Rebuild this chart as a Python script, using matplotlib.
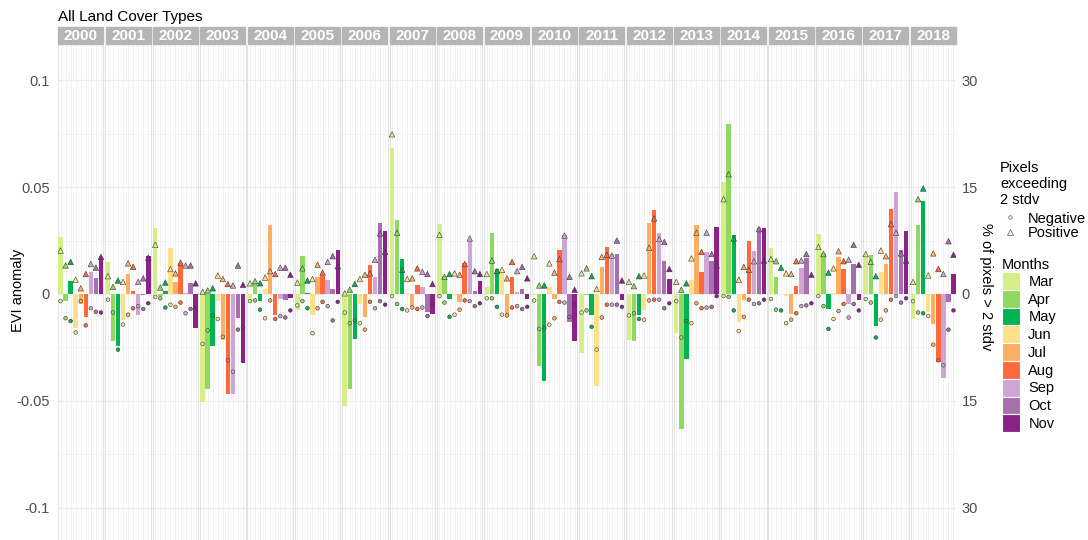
import matplotlib
matplotlib.use("Agg")
import matplotlib.pyplot as plt
import matplotlib.transforms as mtransforms
from matplotlib.patches import Rectangle, Patch
from matplotlib.lines import Line2D

plt.rcParams['font.family'] = ['Liberation Sans', 'DejaVu Sans']

# data
years = list(range(2000, 2019))
months = ["Mar", "Apr", "May", "Jun", "Jul", "Aug", "Sep", "Oct", "Nov"]
month_colors = ["#d5ee87", "#8fd962", "#00b352", "#fee08b", "#fdae61",
                "#ff6a3c", "#cfa6d3", "#a86fae", "#8a2387"]

# EVI anomaly per year, Mar..Nov
anomaly = [
    [0.0268, -0.0031, 0.0062, -0.0159, -0.0047, -0.0109, 0.0104, 0.0073, 0.0171],
    [0.0148, -0.0221, -0.0243, -0.0120, 0.0095, 0.0016, -0.0097, -0.0005, 0.0178],
    [0.0308, -0.0010, 0.0012, 0.0215, 0.0055, 0.0145, 0.0005, 0.0053, -0.0159],
    [-0.0506, -0.0444, -0.0243, -0.0031, -0.0215, -0.0469, -0.0469, -0.0111, -0.0324],
    [-0.0034, 0.0051, -0.0031, 0.0023, 0.0324, -0.0100, -0.0025, -0.0028, -0.0020],
    [-0.0075, 0.0176, 0.0003, -0.0098, 0.0078, 0.0083, 0.0065, 0.0025, 0.0207],
    [-0.0523, -0.0442, -0.0209, -0.0047, -0.0109, 0.0137, 0.0078, 0.0333, 0.0293],
    [0.0681, 0.0347, 0.0165, 0.0003, -0.0062, 0.0042, 0.0034, -0.0086, -0.0093],
    [0.0329, 0.0083, -0.0023, -0.0005, -0.0039, 0.0143, 0.0249, 0.0016, 0.0059],
    [0.0034, 0.0283, 0.0115, 0.0106, -0.0104, 0.0081, 0.0011, 0.0025, -0.0025],
    [-0.0005, -0.0336, -0.0408, 0.0034, -0.0023, 0.0207, 0.0276, -0.0129, -0.0218],
    [-0.0274, -0.0005, -0.0097, -0.0428, 0.0128, 0.0221, 0.0187, 0.0187, -0.0028],
    [-0.0215, -0.0218, -0.0097, -0.0075, 0.0333, 0.0393, 0.0287, 0.0153, 0.0069],
    [-0.0184, -0.0631, -0.0302, 0.0065, 0.0322, 0.0101, 0.0196, 0.0156, 0.0315],
    [0.0525, 0.0794, 0.0276, -0.0129, -0.0026, 0.0248, 0.0202, 0.0308, 0.0308],
    [0.0217, 0.0081, 0.0002, -0.0008, -0.0093, 0.0036, 0.0121, 0.0168, -0.0002],
    [0.0280, 0.0190, -0.0069, 0.0006, 0.0171, 0.0118, -0.0047, 0.0139, -0.0028],
    [0.0182, 0.0182, -0.0148, 0.0104, 0.0142, 0.0397, 0.0478, 0.0207, 0.0296],
    [-0.0118, 0.0324, 0.0433, -0.0086, -0.0142, -0.0318, -0.0394, -0.0039, 0.0095],
]

# % of pixels above +2 stdv
pos_pct = [
    [6.1, 4.0, 4.5, 2.0, 0.8, 2.8, 4.2, 3.7, 5.2],
    [2.5, 1.0, 1.9, 1.7, 4.3, 3.8, 1.7, 2.2, 5.1],
    [6.9, 0.9, 1.6, 3.5, 2.9, 4.4, 4.0, 4.0, 1.5],
    [0.3, 0.5, 0.8, 2.6, 2.1, 1.4, 1.2, 4.0, 1.3],
    [1.5, 1.8, 1.5, 2.3, 3.2, 2.8, 3.7, 3.7, 2.7],
    [1.6, 3.6, 1.9, 2.1, 4.1, 3.0, 4.5, 5.3, 3.9],
    [0.1, 0.6, 1.4, 2.1, 2.7, 2.9, 4.8, 8.5, 5.9],
    [22.4, 8.6, 3.4, 2.1, 2.2, 3.6, 3.1, 2.8, 1.4],
    [8.3, 2.4, 2.8, 2.9, 2.7, 4.2, 7.8, 3.2, 2.8],
    [2.8, 4.7, 3.2, 3.4, 2.2, 4.5, 3.2, 3.8, 2.2],
    [5.3, 1.2, 1.2, 4.3, 3.0, 4.9, 8.2, 2.4, 0.6],
    [2.9, 3.6, 2.5, 0.7, 5.2, 5.5, 5.4, 7.5, 1.9],
    [1.7, 1.1, 2.5, 2.6, 6.5, 10.6, 7.7, 7.3, 3.5],
    [1.7, 0.6, 1.5, 5.0, 8.6, 5.9, 8.6, 5.6, 4.0],
    [13.3, 16.8, 7.8, 2.0, 3.8, 3.4, 4.6, 9.1, 4.7],
    [4.9, 4.6, 3.7, 2.9, 2.8, 4.6, 4.7, 5.6, 2.7],
    [6.6, 5.6, 3.0, 3.6, 6.0, 4.6, 4.8, 6.9, 4.1],
    [5.6, 4.5, 2.5, 6.1, 5.3, 9.8, 8.6, 5.7, 4.7],
    [1.7, 13.3, 14.8, 2.6, 5.7, 3.5, 2.8, 7.4, 5.5],
]

# % of pixels below -2 stdv
neg_pct = [
    [1.0, 3.4, 3.8, 5.4, 1.0, 4.4, 2.0, 2.5, 2.6],
    [0.8, 2.6, 7.8, 4.3, 2.9, 2.0, 1.7, 2.1, 1.3],
    [0.4, 0.6, 1.9, 1.5, 1.8, 1.2, 2.7, 2.1, 2.0],
    [7.0, 5.1, 3.0, 3.5, 6.0, 9.3, 10.9, 5.0, 4.7],
    [1.0, 0.9, 2.2, 3.4, 0.9, 3.5, 3.1, 3.3, 2.3],
    [1.6, 1.0, 2.0, 5.5, 2.0, 1.1, 1.7, 3.7, 1.1],
    [2.6, 4.1, 3.7, 4.1, 5.0, 1.1, 2.0, 1.0, 1.5],
    [0.3, 1.4, 2.1, 2.3, 1.9, 2.1, 1.9, 3.1, 1.4],
    [0.3, 1.2, 3.2, 2.9, 2.2, 0.9, 1.0, 1.7, 1.3],
    [0.6, 0.6, 1.8, 2.9, 3.0, 1.9, 1.7, 2.1, 1.8],
    [0.9, 4.9, 4.8, 4.3, 3.4, 1.1, 1.2, 3.2, 1.5],
    [2.6, 2.3, 4.6, 7.8, 3.3, 1.5, 1.5, 1.5, 1.8],
    [3.0, 2.7, 3.5, 3.6, 0.9, 0.8, 0.8, 2.0, 1.3],
    [1.0, 6.1, 3.8, 4.1, 1.3, 2.0, 1.9, 1.8, 0.3],
    [0.3, 0.4, 2.3, 5.2, 3.2, 0.8, 1.4, 1.3, 0.8],
    [0.7, 2.2, 2.3, 4.1, 3.6, 2.7, 1.7, 1.6, 1.3],
    [0.3, 1.7, 4.9, 3.5, 2.4, 1.4, 3.3, 1.4, 2.3],
    [0.7, 1.2, 6.1, 3.6, 2.3, 0.8, 0.3, 1.2, 0.6],
    [1.0, 2.6, 2.7, 3.1, 7.1, 9.3, 10.0, 5.0, 2.3],
]

scale = 300.0   # 0.1 EVI <-> 30 %
step = 9.38     # facet spacing in x units
W, H = 1088, 540

fig = plt.figure(figsize=(W / 100, H / 100), dpi=100)
ax = fig.add_axes([58 / W, 0, (956 - 58) / W, (540 - 45) / H])
ylo, yhi = -0.115, 0.1164
ax.set_ylim(ylo, yhi)
ax.set_xlim(-0.5, 18 * step + 8.5)

# grid
for yv in [-0.1, -0.05, 0, 0.05, 0.1]:
    ax.axhline(yv, color="#ebebeb", lw=0.9, zorder=0)
for yv in [-0.075, -0.025, 0.025, 0.075]:
    ax.axhline(yv, color="#f4f4f4", lw=0.6, zorder=0)
for i in range(len(years)):
    x0 = i * step
    for j in range(9):
        ax.axvline(x0 + j, color="#efefef", lw=0.6, zorder=0)
        ax.axvline(x0 + j + 0.5, color="#f6f6f6", lw=0.5, zorder=0)
    ax.axvline(x0 - 0.5, color="#e3e3e3", lw=0.8, zorder=0)
    ax.axvline(x0 + 8.5, color="#e3e3e3", lw=0.8, zorder=0)

# bars and markers
for i, yr in enumerate(years):
    xs = [i * step + j for j in range(9)]
    ax.bar(xs, anomaly[i], width=0.88, color=month_colors, zorder=2)
    ax.scatter(xs, [p / scale for p in pos_pct[i]], marker="^", s=16,
               c=month_colors, edgecolors="#3a3a3a", linewidths=0.4, zorder=3)
    ax.scatter(xs, [-p / scale for p in neg_pct[i]], marker="o", s=7,
               c=month_colors, edgecolors="#3a3a3a", linewidths=0.4, zorder=3)

# strips
trans = mtransforms.blended_transform_factory(ax.transData, fig.transFigure)
for i, yr in enumerate(years):
    x0 = i * step
    fig.patches.append(Rectangle((x0 - 0.45, 1 - 44 / H), 8.9, 17 / H,
                                 transform=trans, color="#b5b5b5", zorder=1))
    fig.text(x0 + 4, 1 - 35.5 / H, str(yr), transform=trans, ha="center",
             va="center", color="white", fontsize=11, fontweight="bold")

fig.text(58 / W, 1 - 17 / H, "All Land Cover Types", ha="left", va="center",
         fontsize=11)

# axes styling
for s in ax.spines.values():
    s.set_visible(False)
ax.set_xticks([])
ax.set_yticks([-0.1, -0.05, 0, 0.05, 0.1])
ax.set_yticklabels(["-0.1", "-0.05", "0", "0.05", "0.1"])
ax.tick_params(axis="y", length=0, pad=6, labelsize=10.5, labelcolor="#4d4d4d")

ax2 = ax.twinx()
ax2.set_ylim(ylo * scale, yhi * scale)
ax2.set_yticks([-30, -15, 0, 15, 30])
ax2.set_yticklabels(["30", "15", "0", "15", "30"])
ax2.tick_params(axis="y", length=0, pad=4, labelsize=10.5, labelcolor="#4d4d4d")
for s in ax2.spines.values():
    s.set_visible(False)

fig.text(18 / W, 1 - 290 / H, "EVI anomaly", rotation=90, ha="center",
         va="center", fontsize=10.5)
fig.text(986 / W, 1 - 287 / H, "% of pixels > 2 stdv", rotation=270,
         ha="center", va="center", fontsize=10.5)

# legends
mk = [Line2D([], [], marker="o", ls="", ms=2.6, mfc="white", mec="#777777", mew=0.6),
      Line2D([], [], marker="^", ls="", ms=4, mfc="white", mec="#777777", mew=0.6)]
leg1 = fig.legend(mk, ["Negative", "Positive"], title="Pixels\nexceeding\n2 stdv",
                  loc="upper left", bbox_to_anchor=(1000 / W, 1 - 161 / H),
                  frameon=False, alignment="left", fontsize=10.5, title_fontsize=10.5,
                  handlelength=1.4, handletextpad=0.5, labelspacing=0.05,
                  borderpad=0, borderaxespad=0)
leg1._legend_box.sep = 3

patches = [Patch(facecolor=c, edgecolor="white", linewidth=0.8) for c in month_colors]
leg2 = fig.legend(patches, months, title="Months", loc="upper left",
                  bbox_to_anchor=(1002 / W, 1 - 258 / H), frameon=False,
                  alignment="left", fontsize=10.5, title_fontsize=10.5,
                  handlelength=1.2, handleheight=1.5, handletextpad=0.6,
                  labelspacing=0.0, borderpad=0, borderaxespad=0)

fig.savefig("out.png", dpi=100)
